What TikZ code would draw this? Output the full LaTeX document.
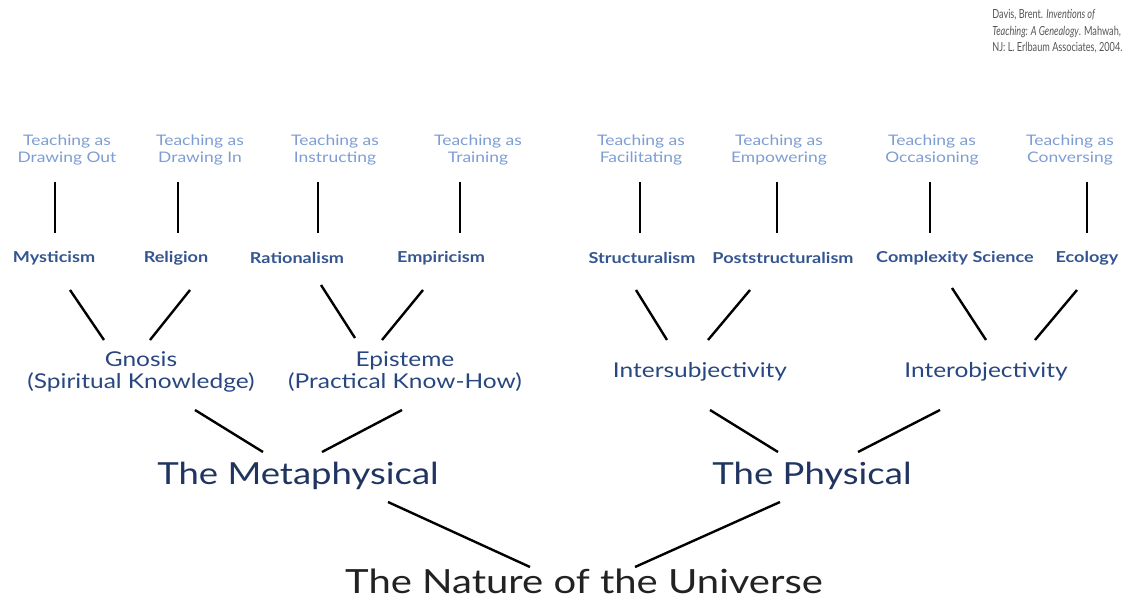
\documentclass[tikz,border=0pt]{standalone}
\usepackage{fontspec}
\setmainfont{Lato}[FakeStretch=1.2]
\newfontfamily\citefont{Lato}[FakeStretch=0.73]
\usetikzlibrary{calc}
\definecolor{lightblue}{HTML}{7D9DD3}
\definecolor{midblue}{HTML}{34558F}
\definecolor{darkblue}{HTML}{284780}
\definecolor{navy}{HTML}{1F3560}
\definecolor{ink}{HTML}{222222}
\definecolor{cite}{HTML}{555555}
\tikzset{
  teach/.style={align=center,text=lightblue,font=\fontsize{10.9}{12.8}\selectfont,inner sep=0pt},
  school/.style={text=midblue,font=\fontsize{11.3}{13}\selectfont\bfseries,inner sep=0pt},
  know/.style={align=center,text=darkblue,font=\fontsize{15.3}{16.5}\selectfont,inner sep=0pt},
  realm/.style={text=navy,font=\fontsize{22.8}{26}\selectfont,inner sep=0pt},
  rootst/.style={text=ink,font=\fontsize{25}{28}\selectfont,inner sep=0pt},
  conn/.style={draw=black,line width=1.8pt},
  vconn/.style={draw=black,line width=2pt}
}
\begin{document}
\begin{tikzpicture}[x=0.75pt,y=-0.75pt]
\useasboundingbox (0,0) rectangle (1128,598);
% citation
\node[anchor=north west,align=left,text=cite,font=\citefont\fontsize{9.4}{12.5}\selectfont,inner sep=0pt] (cit) at (992,9)
  {Davis, Brent. \textit{Inventions of}\\\textit{Teaching: A Genealogy}. Mahwah,\\NJ: L. Erlbaum Associates, 2004.};
% top row
\node[teach] (t1) at (67,150) {Teaching as\\Drawing Out};
\node[teach] (t2) at (200,150) {Teaching as\\Drawing In};
\node[teach] (t3) at (335,150) {Teaching as\\Instructing};
\node[teach] (t4) at (478,150) {Teaching as\\Training};
\node[teach] (t5) at (641,150) {Teaching as\\Facilitating};
\node[teach] (t6) at (779,150) {Teaching as\\Empowering};
\node[teach] (t7) at (932,150) {Teaching as\\Occasioning};
\node[teach] (t8) at (1070,150) {Teaching as\\Conversing};
% second row
\node[school] (m1) at (54,258) {Mysticism};
\node[school] (m2) at (176,258) {Religion};
\node[school] (m3) at (297,258) {Rationalism};
\node[school] (m4) at (441,258) {Empiricism};
\node[school] (m5) at (642,258) {Structuralism};
\node[school] (m6) at (783,258) {Poststructuralism};
\node[school] (m7) at (955,258) {Complexity Science};
\node[school] (m8) at (1087,258) {Ecology};
% third row
\node[know] (k1) at (141,372) {Gnosis\\(Spiritual Knowledge)};
\node[know] (k2) at (405,372) {Episteme\\(Practical Know-How)};
\node[know] (k3) at (700,372) {Intersubjectivity};
\node[know] (k4) at (986,372) {Interobjectivity};
% realms
\node[realm] (r1) at (298,476) {The Metaphysical};
\node[realm] (r2) at (812,476) {The Physical};
% root
\node[rootst] (root) at (584,581) {The Nature of the Universe};
% vertical connectors
\draw[vconn] ($(t1)+(-12,32)$) -- ($(m1)+(1,-25)$);
\draw[vconn] ($(t2)+(-22,32)$) -- ($(m2)+(2,-25)$);
\draw[vconn] ($(t3)+(-17,32)$) -- ($(m3)+(21,-25)$);
\draw[vconn] ($(t4)+(-18,32)$) -- ($(m4)+(19,-25)$);
\draw[vconn] ($(t5)+(-1,32)$) -- ($(m5)+(-2,-25)$);
\draw[vconn] ($(t6)+(-2,32)$) -- ($(m6)+(-6,-25)$);
\draw[vconn] ($(t7)+(-2,32)$) -- ($(m7)+(-25,-25)$);
\draw[vconn] ($(t8)+(17,32)$) -- ($(m8)+(0,-25)$);
% schools to knowledge
\draw[conn] ($(m1)+(16,32)$) -- ($(k1)+(-37,-32)$);
\draw[conn] ($(m2)+(14,32)$) -- ($(k1)+(9,-32)$);
\draw[conn] ($(m3)+(24,27)$) -- ($(k2)+(-50,-34)$);
\draw[conn] ($(m4)+(-18,32)$) -- ($(k2)+(-23,-32)$);
\draw[conn] ($(m5)+(-6,32)$) -- ($(k3)+(-33,-32)$);
\draw[conn] ($(m6)+(-33,32)$) -- ($(k3)+(8,-32)$);
\draw[conn] ($(m7)+(-3,30)$) -- ($(k4)+(0,-32)$);
\draw[conn] ($(m8)+(-10,32)$) -- ($(k4)+(49,-32)$);
% knowledge to realms
\draw[conn] ($(k1)+(54,38)$) -- ($(r1)+(-35,-24)$);
\draw[conn] ($(k2)+(-3,38)$) -- ($(r1)+(24,-24)$);
\draw[conn] ($(k3)+(10,38)$) -- ($(r2)+(-34,-24)$);
\draw[conn] ($(k4)+(-46,38)$) -- ($(r2)+(46,-24)$);
% realms to root
\draw[conn] ($(r1)+(90,26)$) -- ($(root)+(-54,-14)$);
\draw[conn] ($(r2)+(-32,26)$) -- ($(root)+(51,-14)$);
\end{tikzpicture}
\end{document}
